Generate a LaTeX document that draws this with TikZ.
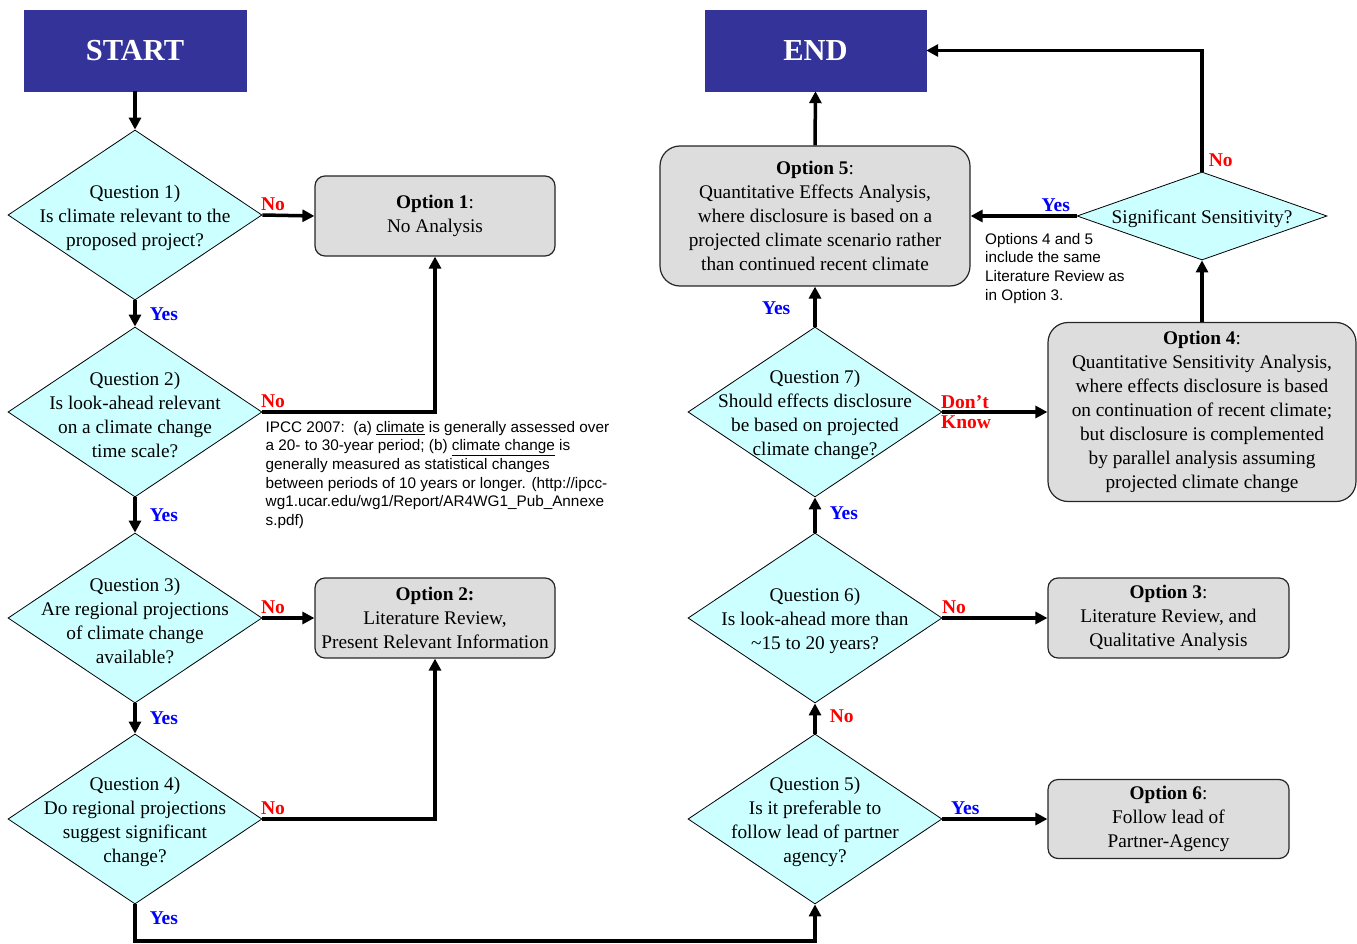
\documentclass[tikz,border=0pt]{standalone}
\usepackage{fontspec}
\setmainfont{Liberation Serif}
\newfontfamily\notefont{Liberation Sans}
\usetikzlibrary{shapes.geometric,arrows.meta}
\definecolor{navy}{RGB}{51,51,153}
\definecolor{qcyan}{RGB}{204,255,255}
\definecolor{optgray}{RGB}{221,221,221}
\definecolor{nored}{RGB}{255,0,0}
\definecolor{yesblue}{RGB}{0,0,255}
\begin{document}
\begin{tikzpicture}[x=1pt,y=-1pt,
 termbox/.style={rectangle, fill=navy, draw=navy, text=white, font=\fontsize{30.5}{34}\selectfont\bfseries, minimum width=222pt, minimum height=81pt, inner sep=0},
 qd/.style={diamond, draw=black, line width=0.8pt, fill=qcyan, inner sep=0, minimum width=254pt, minimum height=170pt},
 qtext/.style={align=center, font=\fontsize{19.3}{24}\selectfont, inner sep=0, yshift=-2.5pt},
 opt/.style={rectangle, rounded corners=10pt, draw=black!85, line width=1.2pt, fill=optgray, align=center, font=\fontsize{19.3}{24}\selectfont, inner sep=0},
 arr/.style={line width=3.5pt, -{Triangle[length=12pt,width=12pt]}},
 nolab/.style={text=nored, font=\fontsize{19.5}{22}\selectfont\bfseries, inner sep=1pt},
 yeslab/.style={text=yesblue, font=\fontsize{19.5}{22}\selectfont\bfseries, inner sep=1pt},
 note/.style={align=left, inner sep=0, font=\notefont\fontsize{15.3}{18.6}\selectfont}
]
\useasboundingbox (0,0) rectangle (1357,944);
% terminals
\node[termbox] (start) at (135,50.5) {START};
\node[termbox, minimum width=221pt] (end) at (815.5,50.5) {END};
% left column questions
\node[qd] (q1) at (135,215) {};
\node[qtext] at (q1.center) {Question 1)\\Is climate relevant to the\\proposed project?};
\node[qd] (q2) at (135,412) {};
\node[qtext] at (q2.center) {Question 2)\\Is look-ahead relevant\\on a climate change\\time scale?};
\node[qd] (q3) at (135,618) {};
\node[qtext] at (q3.center) {Question 3)\\Are regional projections\\of climate change\\available?};
\node[qd] (q4) at (135,819) {};
\node[qtext] at (q4.center) {Question 4)\\Do regional projections\\suggest significant\\change?};
% right column questions
\node[qd] (q7) at (815,412) {};
\node[qtext] at (q7.center) {Question 7)\\Should effects disclosure\\be based on projected\\climate change?};
\node[qd] (q6) at (815,618) {};
\node[qtext] at (q6.center) {Question 6)\\Is look-ahead more than\\\textasciitilde15 to 20 years?};
\node[qd] (q5) at (815,819) {};
\node[qtext] at (q5.center) {Question 5)\\Is it preferable to\\follow lead of partner\\agency?};
\node[qd, minimum width=250pt, minimum height=88pt] (sig) at (1202,216) {};
\node[qtext] at (sig.center) {Significant Sensitivity?};
% options
\node[opt, minimum width=240pt, minimum height=80pt] (opt1) at (435,216) {\textbf{Option 1}:\\No Analysis};
\node[opt, minimum width=240pt, minimum height=80pt] (opt2) at (435,618) {\textbf{Option 2:}\\Literature Review,\\Present Relevant Information};
\node[opt, minimum width=310pt, minimum height=140pt, rounded corners=20pt] (opt5) at (815,216) {\textbf{Option 5}:\\Quantitative Effects Analysis,\\where disclosure is based on a\\projected climate scenario rather\\than continued recent climate};
\node[opt, minimum width=308pt, minimum height=179pt, rounded corners=20pt] (opt4) at (1202,412) {\textbf{Option 4}:\\Quantitative Sensitivity Analysis,\\where effects disclosure is based\\on continuation of recent climate;\\but disclosure is complemented\\by parallel analysis assuming\\projected climate change};
\node[opt, minimum width=241pt, minimum height=80pt] (opt3) at (1168.5,618) {\textbf{Option 3}:\\Literature Review, and\\Qualitative Analysis};
\node[opt, minimum width=241pt, minimum height=79pt] (opt6) at (1168.5,819) {\textbf{Option 6}:\\Follow lead of\\Partner-Agency};
% notes
\node[note, anchor=north west] (ipcc) at (265.5,421) {IPCC 2007:\ \ (a) \underline{climate} is generally assessed over\\a 20- to 30-year period; (b) \underline{climate change} is\\generally measured as statistical changes\\between periods of 10 years or longer. (http://ipcc-\\wg1.ucar.edu/wg1/Report/AR4WG1\_Pub\_Annexe\\s.pdf)};
\node[note, anchor=north west] (samelit) at (985,233) {Options 4 and 5\\include the same\\Literature Review as\\in Option 3.};
% connectors left column
\draw[arr] (start.south) -- (q1.north);
\draw[arr] (q1.south) -- node[yeslab, anchor=west, xshift=12pt, yshift=-1pt] {Yes} (q2.north);
\draw[arr] (q2.south) -- node[yeslab, anchor=west, xshift=12pt] {Yes} (q3.north);
\draw[arr] (q3.south) -- node[yeslab, anchor=west, xshift=12pt] {Yes} (q4.north);
\draw[arr] (q1.east) -- node[nolab, pos=0, anchor=south west, xshift=-4pt, yshift=2pt] {No} (opt1.west);
\draw[arr] (q2.east) -- node[nolab, pos=0, anchor=south west, xshift=-4pt, yshift=2pt] {No} (opt1.south |- q2.east) -- (opt1.south);
\draw[arr] (q3.east) -- node[nolab, pos=0, anchor=south west, xshift=-4pt, yshift=2pt] {No} (opt2.west);
\draw[arr] (q4.east) -- node[nolab, pos=0, anchor=south west, xshift=-4pt, yshift=2pt] {No} (opt2.south |- q4.east) -- (opt2.south);
\coordinate (bl) at (135,941);
\coordinate (br) at (815,941);
\draw[arr] (q4.south) -- node[yeslab, anchor=west, xshift=12pt, yshift=4pt] {Yes} (bl) -- (br) -- (q5.south);
% connectors right column
\draw[arr] (q5.north) -- node[nolab, anchor=west, xshift=12pt, yshift=2pt] {No} (q6.south);
\draw[arr] (q6.north) -- node[yeslab, anchor=west, xshift=12pt, yshift=2pt] {Yes} (q7.south);
\draw[arr] (q7.north) -- node[yeslab, anchor=east, xshift=-22pt, yshift=-2pt] {Yes} (opt5.south);
\draw[arr] (opt5.north) -- (end.south);
\draw[arr] (q6.east) -- node[nolab, pos=0, anchor=south west, xshift=-3pt, yshift=2pt] {No} (opt3.west);
\draw[arr] (q5.east) -- node[yeslab, pos=0, anchor=south west, xshift=6pt, yshift=2pt] {Yes} (opt6.west);
\draw[arr] (q7.east) -- node[nolab, pos=0, anchor=south west, xshift=-4pt, yshift=1pt] {Don’t} node[nolab, pos=0, anchor=north west, xshift=-4pt, yshift=-1pt] {Know} (opt4.west);
\draw[arr] (opt4.north) -- (sig.south);
\draw[arr] (sig.west) -- node[yeslab, pos=0, anchor=south east, xshift=-4pt, yshift=2pt] {Yes} (opt5.east);
\draw[arr] (sig.north) -- node[nolab, pos=0, anchor=south west, xshift=4pt, yshift=2pt] {No} (sig.north |- end.east) -- (end.east);
\end{tikzpicture}
\end{document}
